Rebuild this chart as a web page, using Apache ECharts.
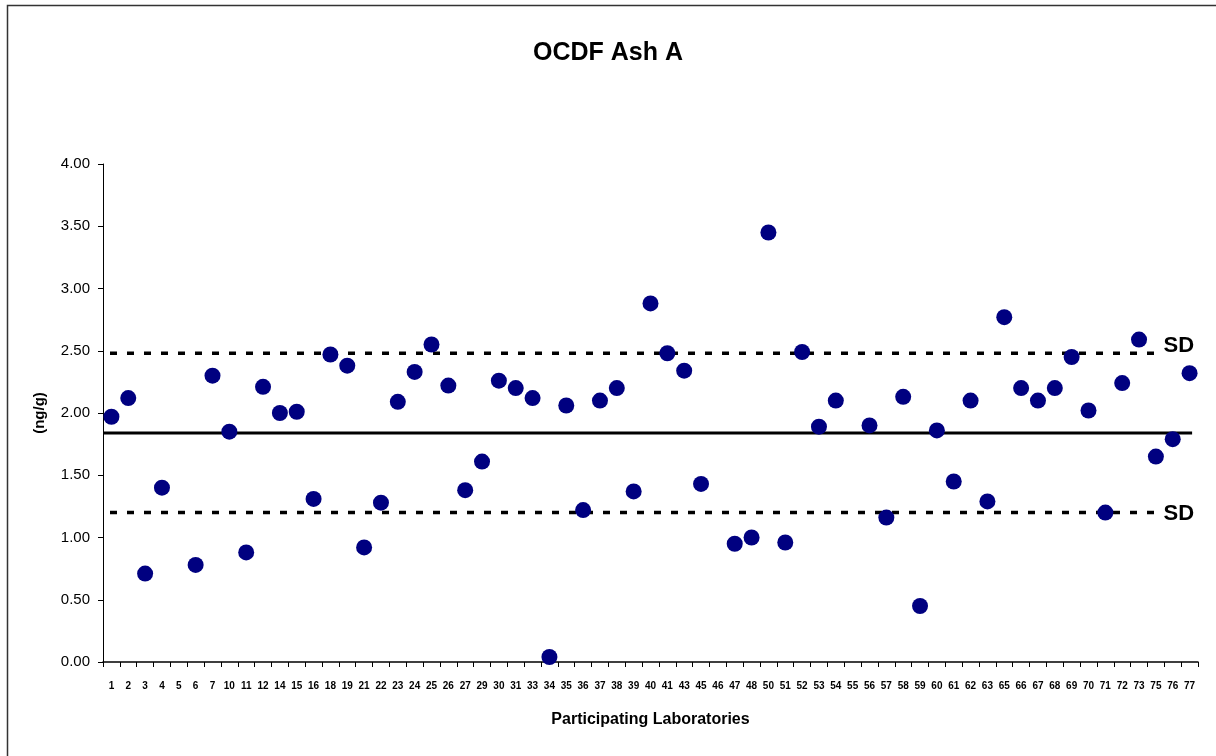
<!DOCTYPE html>
<html><head><meta charset="utf-8">
<script src="https://cdn.jsdelivr.net/npm/echarts@6/dist/echarts.min.js"></script>
<style>html,body{margin:0;padding:0;background:#fff}#c{width:1216px;height:756px}</style>
</head><body><div id="c"></div>
<script>
const labs = ['1','2','3','4','5','6','7','10','11','12','14','15','16','18','19','21','22','23','24','25','26','27','29','30','31','33','34','35','36','37','38','39','40','41','43','45','46','47','48','50','51','52','53','54','55','56','57','58','59','60','61','62','63','65','66','67','68','69','70','71','72','73','75','76','77'];
const values = [1.97,2.12,0.71,1.40,null,0.78,2.30,1.85,0.88,2.21,2.00,2.01,1.31,2.47,2.38,0.92,1.28,2.09,2.33,2.55,2.22,1.38,1.61,2.26,2.20,2.12,0.04,2.06,1.22,2.10,2.20,1.37,2.88,2.48,2.34,1.43,null,0.95,1.00,3.45,0.96,2.49,1.89,2.10,null,1.90,1.16,2.13,0.45,1.86,1.45,2.10,1.29,2.77,2.20,2.10,2.20,2.45,2.02,1.20,2.24,2.59,1.65,1.79,2.32];
const meanVal = 1.84;
const sdUpper = 2.48;
const sdLower = 1.20;

const chart = echarts.init(document.getElementById('c'));
const FONT = '"Liberation Sans", Arial, sans-serif';
const dashStyle = {color:'#000',width:3.5,type:[7,10],dashOffset:10};
chart.setOption({
  backgroundColor:'#fff',
  animation:false,
  textStyle:{fontFamily:FONT},
  title:{text:'OCDF Ash A',left:'center',top:36,textStyle:{fontFamily:FONT,fontSize:25,fontWeight:'bold',color:'#000'}},
  graphic:[{type:'rect',shape:{x:7.5,y:5.5,width:1300,height:900},style:{fill:'none',stroke:'#333',lineWidth:1.5},silent:true,z:-1}],
  grid:{left:103,right:18,top:164,bottom:94},
  xAxis:[{
    type:'category',data:labs,boundaryGap:true,
    axisLine:{lineStyle:{color:'#000',width:1.5}},
    axisTick:{show:true,inside:false,length:5,alignWithLabel:false,lineStyle:{color:'#000'}},
    axisLabel:{interval:0,fontSize:10,fontWeight:'bold',color:'#000',margin:19,fontFamily:FONT},
    name:'Participating Laboratories',nameLocation:'middle',nameGap:50,
    nameTextStyle:{fontSize:16,fontWeight:'bold',color:'#000',fontFamily:FONT},
    splitLine:{show:false}
  },{
    type:'value',min:0,max:labs.length,show:false,gridIndex:0
  }],
  yAxis:{
    type:'value',min:0,max:4,interval:0.5,
    axisLine:{show:true,lineStyle:{color:'#000',width:1}},
    axisTick:{show:true,length:5,lineStyle:{color:'#000'}},
    axisLabel:{formatter:v=>v.toFixed(2),fontSize:15,color:'#000',margin:13,fontFamily:FONT},
    splitLine:{show:false},
    name:'(ng/g)',nameLocation:'middle',nameGap:56,
    nameTextStyle:{fontSize:15,fontWeight:'bold',color:'#000',fontFamily:FONT}
  },
  series:[
    {type:'line',xAxisIndex:1,symbol:'none',data:[[0,meanVal],[labs.length-0.35,meanVal]],lineStyle:{color:'#000',width:3},z:1},
    {type:'line',xAxisIndex:1,symbol:'none',data:[[0,sdUpper],[labs.length-2.4,sdUpper]],lineStyle:dashStyle,z:1,
      endLabel:{show:true,formatter:'SD',fontSize:22,fontWeight:'bold',color:'#000',distance:6,offset:[0,-7],fontFamily:FONT}},
    {type:'line',xAxisIndex:1,symbol:'none',data:[[0,sdLower],[labs.length-2.4,sdLower]],lineStyle:dashStyle,z:1,
      endLabel:{show:true,formatter:'SD',fontSize:22,fontWeight:'bold',color:'#000',distance:6,offset:[0,1],fontFamily:FONT}},
    {type:'scatter',xAxisIndex:0,data:values,symbol:'circle',symbolSize:16,itemStyle:{color:'#000080',opacity:1},z:5}
  ]
});
</script></body></html>
